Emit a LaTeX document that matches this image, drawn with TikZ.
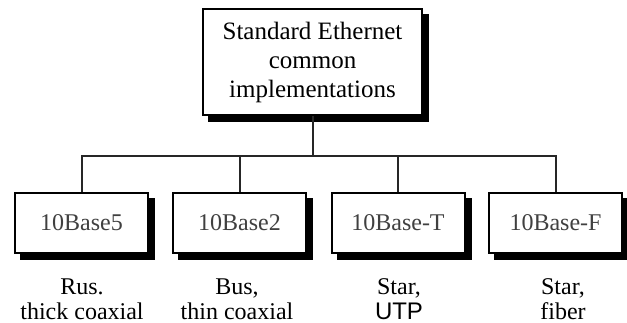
\documentclass[tikz,border=0pt]{standalone}
\usepackage{fontspec}
\setmainfont{Liberation Serif}
\setsansfont{Liberation Sans}
\usetikzlibrary{calc}
\newcommand{\pxunit}{0.5pt}
\tikzset{hbox/.style={draw=#1,line width=1pt,fill=white},hbox/.default=black}
\tikzset{dropline/.style={color=#1,line width=3pt},dropline/.default=black}
\tikzset{wire/.style={color=#1,line width=1pt},wire/.default=black!85}
\tikzset{caption/.style={color=#1,align=center,inner sep=0pt,font=\fontsize{12}{12.5}\selectfont},caption/.default=black}

\begin{document}
\begin{tikzpicture}[x=\pxunit,y=-\pxunit]
	\useasboundingbox (0,0) rectangle (627,322);

	% root of the tree
	\node [hbox,minimum width=109.5pt,minimum height=53pt,align=center,
		font=\fontsize{12.5}{14.5}\selectfont] (std) at (312.5,62)
		{Standard Ethernet\\common\\implementations};

	% the four implementations
	\foreach \name/\x/\txt in {b5/81.5/10Base5,b2/239.5/10Base2,bt/398/10Base-T,bf/555.5/10Base-F}
		\node [hbox,minimum width=66.5pt,minimum height=30pt,text=black!75,
			font=\fontsize{12}{14}\selectfont] (\name) at (\x,223) {\txt};

	% heavy edge along the right and bottom of every box
	\foreach \n in {std,b5,b2,bt,bf}
		\draw [dropline] ($(\n.north east)+(1.5pt,-3pt)$) |- ($(\n.south west)+(3pt,-1.5pt)$);

	\coordinate (split) at (312.5,156);
	\draw [wire] (std.south) -- (split);
	\draw [wire] (b5.north) |- (split) -| (bf.north);
	\draw [wire] (b2.north) -- (b2.north |- split);
	\draw [wire] (bt.north) -- (bt.north |- split);

	% topology and medium
	\node [caption,anchor=north] (b5cap) at (82,278) {Rus.\\thick coaxial};
	\node [caption,anchor=north] (b2cap) at (237,278) {Bus,\\thin coaxial};
	\node [caption,anchor=north] (btcap) at (399,278) {Star,\\\textsf{UTP}};
	\node [caption,anchor=north] (bfcap) at (563,278) {Star,\\fiber};
\end{tikzpicture}
\end{document}
